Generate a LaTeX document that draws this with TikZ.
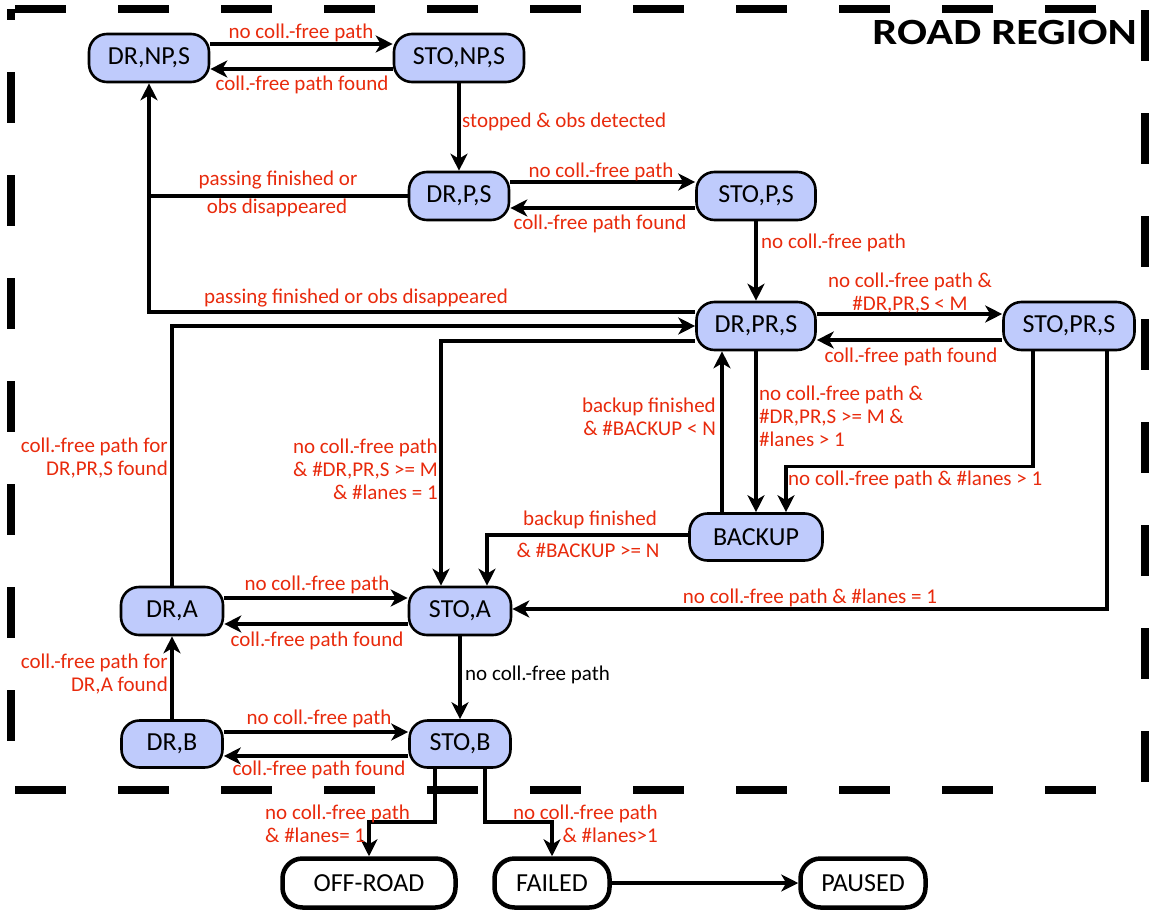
\documentclass[tikz,border=0pt]{standalone}
\usepackage{graphicx}
\usepackage{fontspec}
\setmainfont{Carlito}
\usetikzlibrary{arrows.meta}
\definecolor{stateblue}{RGB}{191,203,252}
\definecolor{labelred}{RGB}{232,42,12}

\begin{document}
\begin{tikzpicture}[x=1pt,y=-1pt,
  state/.style={draw, line width=2.6pt, fill=stateblue, rounded corners=18pt,
    minimum height=48pt, inner sep=0pt, font=\fontsize{26}{28}\selectfont},
  endstate/.style={draw, line width=4.5pt, fill=white, rounded corners=20pt,
    minimum height=49pt, inner sep=0pt, font=\fontsize{26}{28}\selectfont},
  lbl/.style={text=labelred, inner sep=0pt, font=\fontsize{21}{23}\selectfont},
  conn/.style={line width=3.5pt, -{Stealth[length=17pt,width=17pt,inset=5pt]}},
  plain/.style={line width=3.5pt},
  region/.style={line width=8pt, dash pattern=on 51pt off 52pt},
]
\useasboundingbox (0,0) rectangle (1152,913);

% dashed boundary of the road region
\draw[region, dash phase=99pt] (11,9) -- (1145,9);
\draw[region, dash phase=40pt] (11,9) -- (11,790);
\draw[region, dash phase=99pt] (11,790) -- (1145,790);
\draw[region] (1145,10) -- (1145,790);

\node[anchor=east, inner sep=0pt, font=\fontsize{37}{40}\selectfont\bfseries] (title)
  at (1137,32) {\scalebox{1.2}[1]{ROAD REGION}};

% states
\node[state, minimum width=120pt] (dnps) at (149,58) {DR,NP,S};
\node[state, minimum width=130pt] (snps) at (459,58) {STO,NP,S};
\node[state, minimum width=100pt] (dps) at (459,196) {DR,P,S};
\node[state, minimum width=119pt] (sps) at (756,196) {STO,P,S};
\node[state, minimum width=119pt] (dprs) at (756,326) {DR,PR,S};
\node[state, minimum width=131pt] (sprs) at (1069,326) {STO,PR,S};
\node[state, minimum width=133pt, minimum height=47pt] (backup) at (756,537) {BACKUP};
\node[state, minimum width=102pt] (dra) at (172,611) {DR,A};
\node[state, minimum width=102pt] (sta) at (460,611) {STO,A};
\node[state, minimum width=101pt, minimum height=47pt] (drb) at (172,744) {DR,B};
\node[state, minimum width=101pt, minimum height=47pt] (stb) at (460,744) {STO,B};
\node[endstate, minimum width=173pt] (offroad) at (369,883) {OFF-ROAD};
\node[endstate, minimum width=115pt] (failed) at (552,883) {FAILED};
\node[endstate, minimum width=125pt] (paused) at (863,883) {PAUSED};

% transitions
\draw[conn] ([yshift=14pt]dnps.east) -- ([yshift=14pt]snps.west);
\draw[conn] ([yshift=-11pt]snps.west) -- ([yshift=-11pt]dnps.east);
\draw[conn] (snps.south) -- (dps.north);
\draw[conn] ([yshift=14pt]dps.east) -- ([yshift=14pt]sps.west);
\draw[conn] ([yshift=-12pt]sps.west) -- ([yshift=-12pt]dps.east);
\draw[conn] (sps.south) -- (dprs.north);
\draw[plain] (dps.west) -- (dps.west -| dnps.south);
\draw[conn] ([yshift=14pt]dprs.west) -| (dnps.south);
\draw[conn] (dra.north) |- (dprs.west);
\draw[conn] ([yshift=-15pt]dprs.west) -| ([xshift=-19pt]sta.north);
\draw[conn] ([yshift=12pt]dprs.east) -- ([yshift=12pt]sprs.west);
\draw[conn] ([yshift=-14pt]sprs.west) -- ([yshift=-14pt]dprs.east);
\draw[conn] ([xshift=-34pt]backup.north) -- ([xshift=-34pt]dprs.south);
\draw[conn] (dprs.south) -- (backup.north);
\draw[conn] ([xshift=-36pt]sprs.south) -- ++(0,115) -| ([xshift=30pt]backup.north);
\draw[conn] ([xshift=38pt]sprs.south) |- ([yshift=2pt]sta.east);
\draw[conn] ([yshift=2pt]backup.west) -| ([xshift=27pt]sta.north);
\draw[conn] ([yshift=13pt]dra.east) -- ([yshift=13pt]sta.west);
\draw[conn] ([yshift=-13pt]sta.west) -- ([yshift=-13pt]dra.east);
\draw[conn] (sta.south) -- (stb.north);
\draw[conn] (drb.north) -- (dra.south);
\draw[conn] ([yshift=12pt]drb.east) -- ([yshift=12pt]stb.west);
\draw[conn] ([yshift=-12pt]stb.west) -- ([yshift=-12pt]drb.east);
\draw[conn] ([xshift=-25pt]stb.south) -- ++(0,53) -| (offroad.north);
\draw[conn] ([xshift=25pt]stb.south) -- ++(0,53) -| (failed.north);
\draw[conn] (failed.east) -- (paused.west);

% transition conditions
\node[lbl] (l1) at (301,33) {no coll.-free path};
\node[lbl] (l2) at (302,85) {coll.-free path found};
\node[lbl, anchor=west] (l3) at (462,122) {stopped \& obs detected};
\node[lbl] (l4a) at (278,180) {passing finished or};
\node[lbl] (l4b) at (277,208) {obs disappeared};
\node[lbl] (l5) at (356,298) {passing finished or obs disappeared};
\node[lbl] (l6) at (601,172) {no coll.-free path};
\node[lbl] (l7) at (600,224) {coll.-free path found};
\node[lbl, anchor=west] (l8) at (761,243) {no coll.-free path};
\node[lbl, align=center] (l9) at (910,293.5) {no coll.-free path \&\\\#DR,PR,S < M};
\node[lbl] (l10) at (911,357) {coll.-free path found};
\node[lbl, align=right, anchor=east] (l11) at (716,416.5) {backup finished\\\& \#BACKUP < N};
\node[lbl, align=left, anchor=west] (l12) at (759,416) {no coll.-free path \&\\\#DR,PR,S >= M \&\\\#lanes > 1};
\node[lbl, anchor=west] (l13) at (788,480) {no coll.-free path \& \#lanes > 1};
\node[lbl] (l14) at (810,598) {no coll.-free path \& \#lanes = 1};
\node[lbl] (l15a) at (590,520) {backup finished};
\node[lbl] (l15b) at (588,550) {\& \#BACKUP >= N};
\node[lbl, align=right, anchor=east] (l16) at (168,458.5) {coll.-free path for\\DR,PR,S found};
\node[lbl, align=right, anchor=east] (l17) at (438,469.5) {no coll.-free path\\\& \#DR,PR,S >= M\\\& \#lanes = 1};
\node[lbl] (l18) at (317,585) {no coll.-free path};
\node[lbl] (l19) at (317,641) {coll.-free path found};
\node[lbl, text=black, anchor=west] (l20) at (465,675) {no coll.-free path};
\node[lbl, align=right, anchor=east] (l21) at (168,674.5) {coll.-free path for\\DR,A found};
\node[lbl] (l22) at (319,719) {no coll.-free path};
\node[lbl] (l23) at (319,770) {coll.-free path found};
\node[lbl, align=left, anchor=west] (l24) at (265,824) {no coll.-free path\\\& \#lanes= 1};
\node[lbl, align=right, anchor=east] (l25) at (658,824) {no coll.-free path\\\& \#lanes>1};
\end{tikzpicture}
\end{document}
